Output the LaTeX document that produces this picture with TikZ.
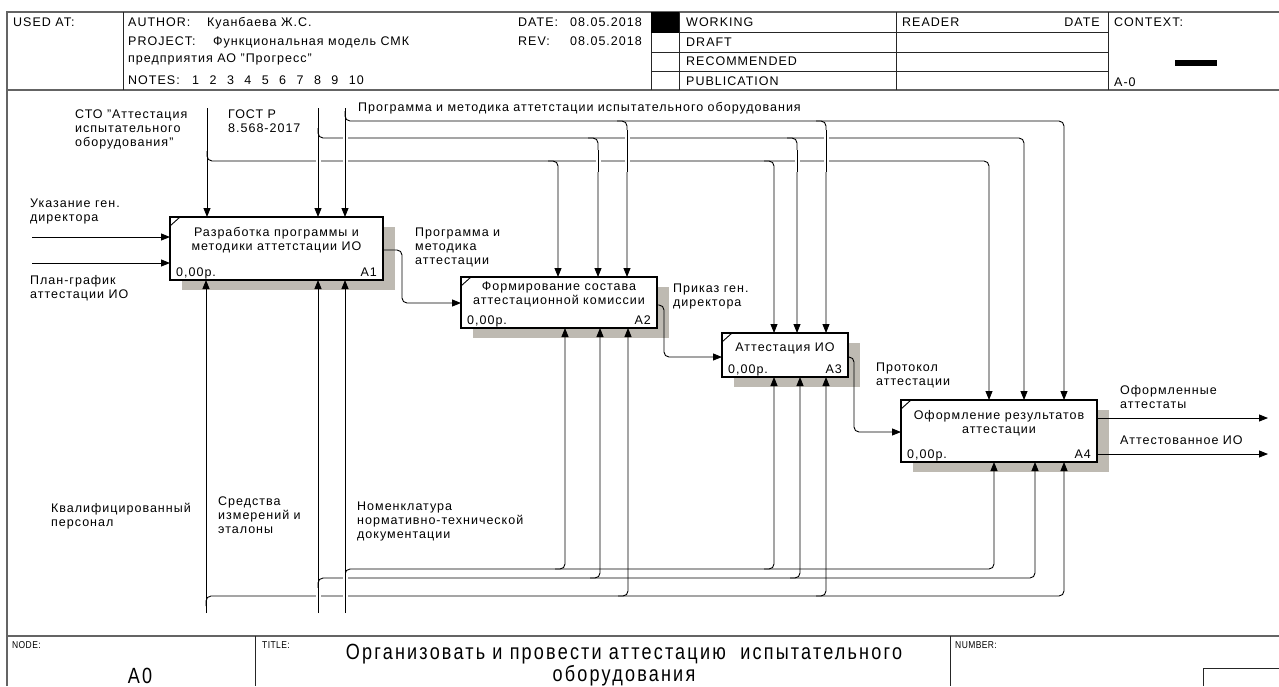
\documentclass[tikz,border=0pt]{standalone}
\usepackage{fontspec}
\setmainfont{Liberation Sans}[LetterSpace=8]
\newfontfamily\narrowfont{Liberation Sans}[FakeStretch=0.82,LetterSpace=10]
\newfontfamily\smallnarrowfont{Liberation Sans}[FakeStretch=0.85,LetterSpace=4]
\usetikzlibrary{arrows.meta,backgrounds,calc}
\definecolor{shadowgray}{RGB}{190,186,178}
\definecolor{framegray}{RGB}{100,100,100}
\newcommand\lblfont{\fontsize{12.5}{14}\selectfont}
\newcommand\titlefont{\narrowfont\fontsize{22}{22}\selectfont}
\newcommand\bignarrow{\narrowfont\fontsize{22}{22}\selectfont}
\newcommand\smallnarrow{\smallnarrowfont\fontsize{10}{12}\selectfont}
\begin{document}
\begin{tikzpicture}[x=1pt,y=-1pt,
  box/.style={draw,line width=2pt,fill=white,anchor=north west,inner sep=0pt,outer sep=0pt},
  ln/.style={line width=0.9pt},
  arr/.style={ln,-{Triangle[length=9pt,width=7pt]}},
  rc/.style={rounded corners=5pt},
  cross/.style={ln,preaction={draw=white,line width=5pt}},
  lbl/.style={anchor=north west,inner sep=0pt,align=left,font=\lblfont},
  txt/.style={anchor=base west,inner sep=0pt,font=\lblfont},
  txte/.style={anchor=base east,inner sep=0pt,font=\lblfont},
  boxtext/.style={align=center,inner sep=0pt,font=\lblfont},
  frame/.style={draw=framegray,line width=1.5pt},
  grid/.style={draw=black!85,line width=1pt}
]
\useasboundingbox (0,0) rectangle (1279,686);

% ---------- frame ----------
\draw[frame] (7,686) -- (7,12) -- (1279,12);
\draw[frame] (7,90) -- (1279,90);
\draw[frame] (7,636) -- (1279,636);
\draw[grid] (123,12) -- (123,90);
\draw[grid] (651,12) -- (651,90);
\draw[grid] (679,12) -- (679,90);
\draw[grid] (896,12) -- (896,90);
\draw[grid] (1108,12) -- (1108,90);
\draw[grid] (651,32.5) -- (1108,32.5);
\draw[grid] (651,52) -- (1108,52);
\draw[grid] (651,71) -- (1108,71);
\fill (651,12) rectangle (679,32.5);
\fill (1175,60) rectangle (1217,66);
\draw[grid] (255,636) -- (255,686);
\draw[grid] (950,636) -- (950,686);
\draw[grid] (1203,686) -- (1203,668) -- (1279,668);

% ---------- header text ----------
\node[txt] (usedat) at (13,26) {USED AT:};
\node[txt] (author) at (128,26) {AUTHOR:};
\node[txt] (authorv) at (207,26) {Куанбаева Ж.С.};
\node[txt] (project) at (128,45) {PROJECT:};
\node[txt] (projectv) at (213,45) {Функциональная модель СМК};
\node[txt] (projectv2) at (128,62) {предприятия АО "Прогресс"};
\node[txt] (notes) at (128,84) {NOTES:};
\foreach \i in {1,...,10} \node[txt] (n\i) at ({192+17.4*(\i-1)},84) {\i};
\node[txt] (date) at (518,26) {DATE:};
\node[txt] (datev) at (570,26) {08.05.2018};
\node[txt] (rev) at (518,45) {REV:};
\node[txt] (revv) at (570,45) {08.05.2018};
\node[txt] (working) at (686,26) {WORKING};
\node[txt] (draft) at (686,46) {DRAFT};
\node[txt] (recom) at (686,65) {RECOMMENDED};
\node[txt] (public) at (686,85) {PUBLICATION};
\node[txt] (reader) at (902,26) {READER};
\node[txte] (rdate) at (1100,26) {DATE};
\node[txt] (context) at (1114,26) {CONTEXT:};
\node[txt] (ctxnode) at (1114,86) {A-0};

% ---------- footer text ----------
\node[anchor=base west,inner sep=0pt,font=\smallnarrow] (nodelbl) at (12,648) {NODE:};
\node[anchor=base west,inner sep=0pt,font=\smallnarrow] (titlelbl) at (262,648) {TITLE:};
\node[anchor=base west,inner sep=0pt,font=\smallnarrow] (numberlbl) at (955,648) {NUMBER:};
\node[inner sep=0pt,font=\bignarrow] (a0) at (140,676) {A0};
\node[inner sep=0pt,align=center,font=\titlefont] (title) at (624,665) {Организовать и провести аттестацию \ испытательного\\оборудования};

% ---------- boxes ----------
\node[box,minimum width=213pt,minimum height=63pt] (A1) at (170,217) {};
\node[box,minimum width=196pt,minimum height=51pt] (A2) at (461,277) {};
\node[box,minimum width=126pt,minimum height=44pt] (A3) at (722,333) {};
\node[box,minimum width=196pt,minimum height=62pt] (A4) at (901,400) {};
\begin{pgfonlayer}{background}
\foreach \b in {A1,A2,A3,A4}
  \fill[shadowgray] ($(\b.north west)+(12,10)$) rectangle ($(\b.south east)+(12,10)$);
\end{pgfonlayer}
\foreach \b in {A1,A2,A3,A4}
  \draw[ln] ($(\b.north west)+(0,9)$) -- ($(\b.north west)+(10,0)$);

\node[boxtext] (A1t) at ($(A1.center)+(0,-8)$) {Разработка программы и\\методики аттетстации ИО};
\node[boxtext] (A2t) at ($(A2.center)+(0,-8)$) {Формирование состава\\аттестационной комиссии};
\node[boxtext] (A3t) at ($(A3.center)+(0,-7)$) {Аттестация ИО};
\node[boxtext] (A4t) at ($(A4.center)+(0,-8)$) {Оформление результатов\\аттестации};
\foreach \b in {A1,A2,A3,A4} {
  \node[txt] (\b c) at ($(\b.south west)+(6,-4)$) {0,00р.};
  \node[txte] (\b n) at ($(\b.south east)+(-6,-4)$) {\b};
}

% ---------- controls (top) ----------
\coordinate (t1) at (207,108);
\coordinate (t2) at (318,108);
\coordinate (t3) at (345,108);
\draw[arr] (t1) -- (t1 |- A1.north);
\draw[arr] (t2) -- (t2 |- A1.north);
\draw[arr] (t3) -- (t3 |- A1.north);
\draw[arr,rc] (345,111) -- (345,121) -- (1064,121) -- (1064,121 |- A4.north);
\draw[arr,rc] (617,121) -- (627,121) -- (627,121 |- A2.north);
\draw[arr,rc] (816,121) -- (826,121) -- (826,121 |- A3.north);
\draw[arr,rc] (318,128) -- (318,138) -- (1024,138) -- (1024,138 |- A4.north);
\draw[arr,rc] (588,138) -- (598,138) -- (598,138 |- A2.north);
\draw[arr,rc] (787,138) -- (797,138) -- (797,138 |- A3.north);
\draw[arr,rc] (207,151) -- (207,161) -- (989,161) -- (989,161 |- A4.north);
\draw[arr,rc] (548,161) -- (558,161) -- (558,161 |- A2.north);
\draw[arr,rc] (764,161) -- (774,161) -- (774,161 |- A3.north);
% crossings
\draw[cross] (318,150) -- (318,172);
\draw[cross] (345,130) -- (345,172);
\draw[cross] (598,150) -- (598,172);
\draw[cross] (627,130) -- (627,172);
\draw[cross] (797,150) -- (797,172);
\draw[cross] (826,130) -- (826,172);

% ---------- mechanisms (bottom) ----------
\coordinate (s1) at (206,613);
\coordinate (s2) at (318,613);
\coordinate (s3) at (345,613);
\draw[arr] (s1) -- (s1 |- A1.south);
\draw[arr] (s2) -- (s2 |- A1.south);
\draw[arr] (s3) -- (s3 |- A1.south);
\draw[arr,rc] (345,579) -- (345,569) -- (994,569) -- (994,569 |- A4.south);
\draw[arr,rc] (555,569) -- (565,569) -- (565,569 |- A2.south);
\draw[arr,rc] (764,569) -- (774,569) -- (774,569 |- A3.south);
\draw[arr,rc] (318,588) -- (318,578) -- (1035,578) -- (1035,578 |- A4.south);
\draw[arr,rc] (590,578) -- (600,578) -- (600,578 |- A2.south);
\draw[arr,rc] (790,578) -- (800,578) -- (800,578 |- A3.south);
\draw[arr,rc] (206,606) -- (206,596) -- (1064,596) -- (1064,596 |- A4.south);
\draw[arr,rc] (618,596) -- (628,596) -- (628,596 |- A2.south);
\draw[arr,rc] (816,596) -- (826,596) -- (826,596 |- A3.south);
\draw[cross] (318,588) -- (318,604);
\draw[cross] (345,573) -- (345,604);

% ---------- inputs / outputs ----------
\coordinate (in1) at (32,237);
\coordinate (in2) at (32,263);
\draw[arr] (in1) -- (in1 -| A1.west);
\draw[arr] (in2) -- (in2 -| A1.west);
\draw[arr,rc] (A1.east |- 0,250) -- (402,250) -- (402,303) -- (402,303 -| A2.west);
\draw[arr,rc] (A2.east |- 0,305) -- (664,305) -- (664,357) -- (664,357 -| A3.west);
\draw[arr,rc] (A3.east |- 0,357) -- (854,357) -- (854,432) -- (854,432 -| A4.west);
\coordinate (out1) at (1268,418);
\coordinate (out2) at (1268,454);
\draw[arr] (A4.east |- out1) -- (out1);
\draw[arr] (A4.east |- out2) -- (out2);

% ---------- labels ----------
\node[lbl] (lsto) at (75,108.5) {\strut СТО "Аттестация\\испытательного\\оборудования"};
\node[lbl] (lgost) at (228,108.5) {\strut ГОСТ Р\\8.568-2017};
\node[lbl] (lprog) at (358,101.5) {\strut Программа и методика аттетстации испытательного оборудования};
\node[lbl] (lukaz) at (30,197.5) {\strut Указание ген.\\директора};
\node[lbl] (lplan) at (30,274.5) {\strut План-график\\аттестации ИО};
\node[lbl] (lpm) at (415,226.5) {\strut Программа и\\методика\\аттестации};
\node[lbl] (lprik) at (673,282.5) {\strut Приказ ген.\\директора};
\node[lbl] (lprot) at (876,361.5) {\strut Протокол\\аттестации};
\node[lbl] (loatt) at (1120,384.5) {\strut Оформленные\\аттестаты};
\node[lbl] (latio) at (1120,434.5) {\strut Аттестованное ИО};
\node[lbl] (lkval) at (51,502.5) {\strut Квалифицированный\\персонал};
\node[lbl] (lsred) at (218,495.5) {\strut Средства\\измерений и\\эталоны};
\node[lbl] (lnom) at (357,500.5) {\strut Номенклатура\\нормативно-технической\\документации};
\end{tikzpicture}
\end{document}
